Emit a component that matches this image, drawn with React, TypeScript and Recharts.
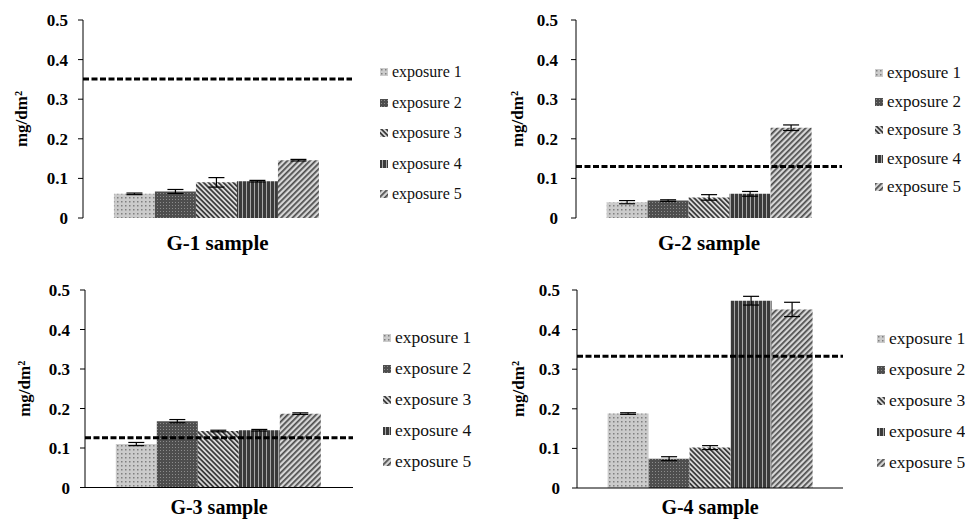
import { BarChart, Bar, XAxis, YAxis, ErrorBar, ReferenceLine, Legend } from 'recharts'

const FONT = "'Liberation Serif', 'Times New Roman', serif"

// values (mg/dm2)
const samples = ['G-1 sample', 'G-2 sample', 'G-3 sample', 'G-4 sample']
const exposures = ['exposure 1', 'exposure 2', 'exposure 3', 'exposure 4', 'exposure 5']
const yTicks = [0, 0.1, 0.2, 0.3, 0.4, 0.5]
const yLabel = 'mg/dm²'

const g1Means = [0.061, 0.067, 0.09, 0.093, 0.146]
const g1Errors = [0.002, 0.005, 0.012, 0.002, 0.002]
const g2Means = [0.04, 0.044, 0.052, 0.061, 0.228]
const g2Errors = [0.004, 0.002, 0.007, 0.006, 0.007]
const g3Means = [0.11, 0.168, 0.143, 0.145, 0.187]
const g3Errors = [0.004, 0.004, 0.002, 0.002, 0.002]
const g4Means = [0.188, 0.074, 0.102, 0.473, 0.451]
const g4Errors = [0.002, 0.005, 0.005, 0.011, 0.018]
const limits = [0.351, 0.13, 0.126, 0.333]

const fills = ['url(#exp1)', 'url(#exp2)', 'url(#exp3)', 'url(#exp4)', 'url(#exp5)']

function buildRow(name: string, means: number[], errors: number[]) {
    const row: Record<string, string | number> = { name }
    means.forEach((m, i) => {
        row[`e${i}`] = m
        row[`err${i}`] = errors[i]
    })
    return [row]
}

const panelData = [
    buildRow(samples[0], g1Means, g1Errors),
    buildRow(samples[1], g2Means, g2Errors),
    buildRow(samples[2], g3Means, g3Errors),
    buildRow(samples[3], g4Means, g4Errors),
]

// layout of the four panels
const panels = [
    { left: 0, top: 0, width: 480, yw: 83, mt: 20, mr: 128, catH: 34, tm: 10, lx: 21, axisLine: false, lgLeft: 380, lgTop: 57, row: 30.5, lgFont: 16, titleGap: 9, titleFont: 21 },
    { left: 480, top: 0, width: 485, yw: 96, mt: 20, mr: 123, catH: 34, tm: 13, lx: 37, axisLine: false, lgLeft: 395, lgTop: 59, row: 28.5, lgFont: 17, titleGap: 9, titleFont: 21 },
    { left: 0, top: 260, width: 480, yw: 85, mt: 30, mr: 127, catH: 24.5, tm: 10, lx: 24, axisLine: true, lgLeft: 383, lgTop: 62, row: 31, lgFont: 17.5, titleGap: 4, titleFont: 20 },
    { left: 480, top: 260, width: 485, yw: 97, mt: 30, mr: 122, catH: 24, tm: 12, lx: 38, axisLine: true, lgLeft: 397, lgTop: 63, row: 31, lgFont: 17.5, titleGap: 4, titleFont: 20 },
]

function Patterns() {
    return (
        <svg width={0} height={0} style={{ position: 'absolute' }}>
            <defs>
                <pattern id="exp1" width={4} height={4} patternUnits="userSpaceOnUse">
                    <rect width={4} height={4} fill="#cbcbcb" />
                    <rect x={1} y={1} width={1.5} height={1.5} fill="#7f7f7f" />
                </pattern>
                <pattern id="exp2" width={3} height={3} patternUnits="userSpaceOnUse">
                    <rect width={3} height={3} fill="#4e4e4e" />
                    <rect x={1} y={1} width={1} height={1} fill="#8c8c8c" />
                </pattern>
                <pattern id="exp3" width={3.5} height={3.5} patternUnits="userSpaceOnUse" patternTransform="rotate(-45)">
                    <rect width={3.5} height={3.5} fill="#dcdcdc" />
                    <rect width={1.8} height={3.5} fill="#3a3a3a" />
                </pattern>
                <pattern id="exp4" width={4} height={4} patternUnits="userSpaceOnUse">
                    <rect width={4} height={4} fill="#3a3a3a" />
                    <rect x={2} width={1} height={4} fill="#a8a8a8" />
                </pattern>
                <pattern id="exp5" width={4} height={4} patternUnits="userSpaceOnUse" patternTransform="rotate(45)">
                    <rect width={4} height={4} fill="#d6d6d6" />
                    <rect width={1.7} height={4} fill="#4a4a4a" />
                </pattern>
            </defs>
        </svg>
    )
}

function LegendList({ payload, row, fontSize }: { payload?: any[]; row: number; fontSize: number }) {
    return (
        <div>
            {(payload || []).map((entry, i) => (
                <div
                    key={entry.value}
                    style={{ height: row, display: 'flex', alignItems: 'center', fontFamily: FONT, fontSize, color: '#111', whiteSpace: 'nowrap' }}
                >
                    <svg width={8} height={8} style={{ marginRight: 4 }}>
                        <rect width={8} height={8} fill={entry.color || fills[i]} />
                    </svg>
                    {entry.value}
                </div>
            ))}
        </div>
    )
}

function SamplePanel({ idx }: { idx: number }) {
    const p = panels[idx]
    return (
        <div style={{ position: 'absolute', left: p.left, top: p.top }}>
            <BarChart
                width={p.width}
                height={260}
                data={panelData[idx]}
                margin={{ top: p.mt, right: p.mr, bottom: 0, left: 0 }}
                barGap={0}
                barCategoryGap="11.5%"
            >
                <XAxis
                    xAxisId="cat"
                    dataKey="name"
                    axisLine={false}
                    tickLine={false}
                    tickSize={0}
                    tickMargin={p.titleGap}
                    height={p.catH}
                    tick={{ fill: '#000', fontSize: p.titleFont, fontWeight: 'bold', fontFamily: FONT }}
                />
                <XAxis
                    xAxisId="axisEdge"
                    type="number"
                    domain={[0, 1]}
                    ticks={[0, 1]}
                    tick={false}
                    tickSize={7}
                    height={8}
                    axisLine={p.axisLine ? { stroke: '#000' } : false}
                    tickLine={{ stroke: '#000' }}
                />
                <YAxis
                    domain={[0, 0.5]}
                    ticks={yTicks}
                    width={p.yw}
                    tickSize={5}
                    tickMargin={p.tm}
                    tickFormatter={(v: number) => (v === 0 ? '0' : v.toFixed(1))}
                    axisLine={{ stroke: '#000' }}
                    tickLine={{ stroke: '#000' }}
                    tick={{ fill: '#000', fontSize: 17, fontWeight: 'bold', fontFamily: FONT }}
                    label={{
                        value: yLabel,
                        angle: -90,
                        position: 'insideLeft',
                        offset: p.lx,
                        style: { textAnchor: 'middle', fontWeight: 'bold', fontSize: 17, fontFamily: FONT, fill: '#000' },
                    }}
                />
                {exposures.map((name, i) => (
                    <Bar key={name} xAxisId="cat" dataKey={`e${i}`} name={name} fill={fills[i]} isAnimationActive={false}>
                        <ErrorBar dataKey={`err${i}`} width={8} stroke="#000" strokeWidth={1.2} direction="y" />
                    </Bar>
                ))}
                <ReferenceLine xAxisId="axisEdge" y={limits[idx]} stroke="#000" strokeWidth={3} strokeDasharray="6 2.5" />
                <Legend
                    layout="vertical"
                    align="center"
                    verticalAlign="middle"
                    wrapperStyle={{ left: p.lgLeft, top: p.lgTop, width: 'auto' }}
                    content={(props: any) => <LegendList payload={props.payload} row={p.row} fontSize={p.lgFont} />}
                />
            </BarChart>
        </div>
    )
}

export default function App() {
    return (
        <div style={{ position: 'absolute', left: 0, top: 0, width: 965, height: 520, background: '#fff', overflow: 'hidden' }}>
            <Patterns />
            {panels.map((_, i) => (
                <SamplePanel key={i} idx={i} />
            ))}
        </div>
    )
}
